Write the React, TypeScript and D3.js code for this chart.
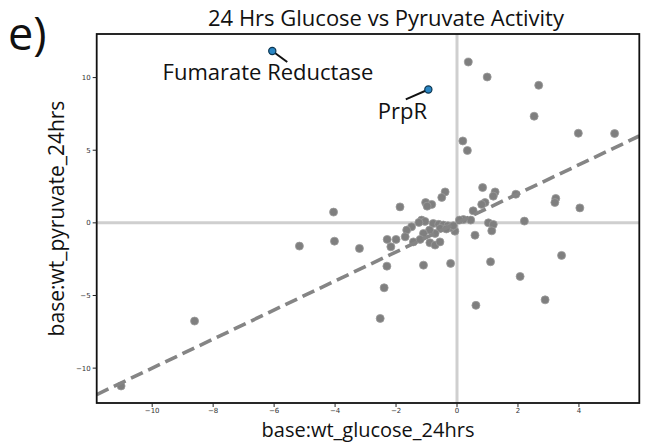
import React from "react";
import * as d3 from "d3";

const W = 654;
const H = 442;

// gray points: [x (glucose), y (pyruvate)]
const glucose = [
  0.37, 0.99, 2.68, 2.53, 3.98, 5.17, 0.19, 0.34,
  0.84, 1.25, 1.19, 1.93, 3.24, 3.21, 4.03, 0.92, 0.81, 0.53, -0.39, -0.5, -1.87, -1.03, -0.83, -0.98, -4.05,
  0.45, 0.21, 0.08, 1.03, 1.19, 2.21, 1.14, 0.59, -0.07,
  -1.16, -1.05, -1.25, -0.78, -0.6, -0.45, -0.3, -0.2, -0.12, -0.55, -0.72, -0.9, -1.1, -1.49, -1.65, -1.7, -1.43, -1.21, -0.89, -0.72, -0.56, -0.35,
  -2.29, -2.0, -2.17, -4.02, -5.17, -3.2, -2.3, -2.39, -2.52, -8.61, -11.02,
  -1.1, -0.21, 1.1, 3.43, 2.07, 2.89, 0.62,
];
const pyruvate = [
  11.07, 10.04, 9.47, 7.34, 6.17, 6.15, 5.64, 4.98,
  2.43, 2.13, 1.84, 1.97, 1.68, 1.4, 1.03, 1.4, 1.27, 0.83, 2.13, 1.75, 1.1, 1.4, 1.27, 1.15, 0.74,
  0.19, 0.23, 0.19, 0.0, -0.11, 0.12, -0.55, -0.85, -0.57,
  0.19, 0.1, 0.03, -0.04, -0.1, -0.15, -0.2, -0.32, -0.2, -0.38, -0.73, -0.5, -0.73, -0.27, -0.5, -0.96, -1.31, -1.14, -1.37, -1.53, -1.31, -0.42,
  -1.14, -1.14, -1.65, -1.26, -1.6, -1.76, -2.98, -4.47, -6.58, -6.76, -11.23,
  -2.91, -2.79, -2.68, -2.24, -3.69, -5.3, -5.68,
];

// highlighted genes
const hlNames = ["Fumarate Reductase", "PrpR"];
const hlX = [-6.06, -0.94];
const hlY = [11.83, 9.18];
// label anchor (data units)
const hlLabelX = [-6.2, -1.79];
const hlLabelY = [9.82, 7.14];
// connector end (data units)
const hlLineX = [-5.57, -1.68];
const hlLineY = [11.07, 8.5];

const xTicks = [-10, -8, -6, -4, -2, 0, 2, 4];
const yTicks = [-10, -5, 0, 5, 10];

const xDomain = [-11.82, 5.98];
const yDomain = [-12.4, 13.0];

const fmt = (v: number) => (v < 0 ? "\u2212" + Math.abs(v) : String(v));

export default function App() {
  const left = 96.7, right = 639.3, top = 34, bottom = 403;
  const x = d3.scaleLinear().domain(xDomain).range([left, right]);
  const y = d3.scaleLinear().domain(yDomain).range([bottom, top]);
  const pts = glucose.map((g, i) => [g, pyruvate[i]]);
  const line = d3.line<number>().x((d) => x(d)).y((d) => y(d));
  const font = "'Open Sans', sans-serif";
  return (
    <svg width={W} height={H} style={{ position: "absolute", left: 0, top: 0, background: "#fff" }}>
      <defs>
        <clipPath id="plot">
          <rect x={left} y={top} width={right - left} height={bottom - top} />
        </clipPath>
      </defs>
      <text x={8} y={50} fontFamily={font} fontSize={45} fill="#111">e)</text>
      <text x={386} y={26} textAnchor="middle" fontFamily={font} fontSize={22} fill="#111">
        24 Hrs Glucose vs Pyruvate Activity
      </text>
      <g clipPath="url(#plot)">
        <line x1={left} x2={right} y1={y(0)} y2={y(0)} stroke="#cfcfcf" strokeWidth={3} />
        <line x1={x(0)} x2={x(0)} y1={top} y2={bottom} stroke="#cfcfcf" strokeWidth={3} />
        {pts.map((p, i) => (
          <circle key={i} cx={x(p[0])} cy={y(p[1])} r={4} fill="#7f7f7f" stroke="#9a9a9a" strokeWidth={0.8} />
        ))}
        <path d={line(xDomain) || ""} fill="none" stroke="#858585" strokeWidth={3.6} strokeDasharray="13,6" />
        {hlX.map((hx, i) => (
          <g key={"h" + i}>
            <line x1={x(hx)} y1={y(hlY[i])} x2={x(hlLineX[i])} y2={y(hlLineY[i])} stroke="#111" strokeWidth={2} />
            <circle cx={x(hx)} cy={y(hlY[i])} r={3.6} fill="#2a86c4" stroke="#0b3550" strokeWidth={1.2} />
          </g>
        ))}
      </g>
      {hlNames.map((n, i) => (
        <text key={n} x={x(hlLabelX[i])} y={y(hlLabelY[i])} textAnchor="middle" fontFamily={font} fontSize={22} fill="#111">{n}</text>
      ))}
      <rect x={left} y={top} width={right - left} height={bottom - top} fill="none" stroke="#111" strokeWidth={1.8} />
      {xTicks.map((t) => (
        <g key={"x" + t}>
          <line x1={x(t)} x2={x(t)} y1={bottom} y2={bottom + 4} stroke="#222" strokeWidth={1} />
          <text x={x(t)} y={bottom + 9.5} textAnchor="middle" fontFamily="'DejaVu Sans', sans-serif" fontSize={7} fill="#333">{fmt(t)}</text>
        </g>
      ))}
      {yTicks.map((t) => (
        <g key={"y" + t}>
          <line x1={left - 4} x2={left} y1={y(t)} y2={y(t)} stroke="#222" strokeWidth={1} />
          <text x={left - 6} y={y(t) + 2.5} textAnchor="end" fontFamily="'DejaVu Sans', sans-serif" fontSize={7} fill="#333">{fmt(t)}</text>
        </g>
      ))}
      <text x={(left + right) / 2} y={436.5} textAnchor="middle" fontFamily={font} fontSize={20} fill="#111">
        base:wt_glucose_24hrs
      </text>
      <text transform={`translate(64, ${(top + bottom) / 2}) rotate(-90)`} textAnchor="middle" fontFamily={font} fontSize={21} fill="#111">
        base:wt_pyruvate_24hrs
      </text>
    </svg>
  );
}
